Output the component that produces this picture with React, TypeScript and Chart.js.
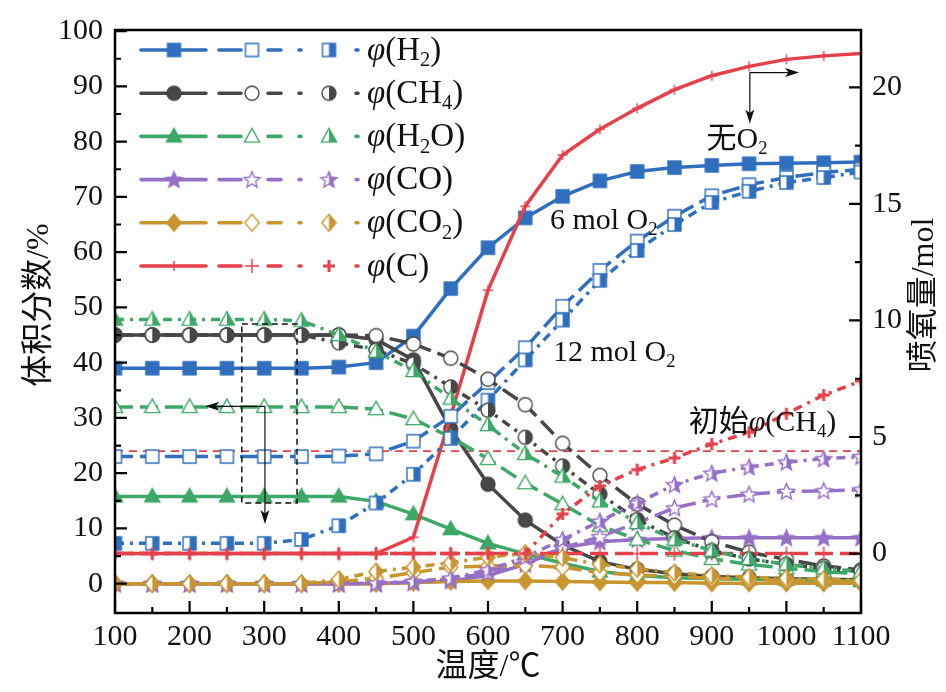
import React, { useEffect, useRef } from 'react';
import { Chart, registerables } from 'chart.js';
Chart.register(...registerables);

// ---------- data ----------
const TEMPS = [100, 150, 200, 250, 300, 350, 400, 450, 500, 550, 600, 650, 700, 750, 800, 850, 900, 950, 1000, 1050, 1100];

// solid lines, filled markers (无O2)
const H2_A = [39, 39, 39, 39, 39, 39, 39.2, 40, 44.8, 53.4, 60.8, 66.2, 70.1, 72.9, 74.6, 75.3, 75.7, 76, 76.1, 76.2, 76.3];
const CH4_A = [45, 45, 45, 45, 45, 45, 45, 44.2, 40.5, 28, 18, 11.5, 7, 4, 2.6, 1.8, 1.3, 1.1, 0.9, 0.8, 0.7];
const H2O_A = [15.8, 15.8, 15.8, 15.8, 15.8, 15.8, 15.8, 14.9, 12.6, 9.9, 7.3, 5.4, 3.7, 2.2, 1.5, 1.1, 0.9, 0.8, 0.7, 0.6, 0.5];
const CO_A = [0, 0, 0, 0, 0, 0, 0, 0, 0.2, 0.5, 1.5, 3.5, 6.5, 7.6, 8, 8.2, 8.3, 8.3, 8.3, 8.3, 8.3];
const CO2_A = [0, 0, 0, 0, 0, 0, 0, 0, 0.2, 0.4, 0.5, 0.5, 0.4, 0.3, 0.2, 0.2, 0.1, 0.1, 0.1, 0.1, 0.1];
const C_A = [0, 0, 0, 0, 0, 0, 0, 0, 0.7, 5.9, 11.3, 14.9, 17.1, 18.2, 19.1, 19.9, 20.5, 20.9, 21.2, 21.35, 21.45];

// dashed lines, open markers (6 mol O2)
const H2_B = [23, 23, 23, 23, 23, 23, 23.1, 23.5, 25.8, 30.3, 36.4, 42.7, 50.2, 56.7, 62, 66.5, 70.2, 72.2, 73.5, 74.4, 75];
const CH4_B = [45, 45, 45, 45, 45, 45, 45, 44.9, 43.4, 40.8, 37, 32.4, 25.4, 19.6, 14.4, 10.6, 7.6, 5.7, 4.4, 3.2, 2.5];
const H2O_B = [32, 32, 32, 32, 32, 32, 32, 31.6, 29.8, 26.5, 22.6, 18.2, 14.4, 10.5, 8, 6, 4.5, 3.5, 2.8, 2.2, 1.8];
const CO_B = [0, 0, 0, 0, 0, 0, 0, 0.1, 0.3, 0.8, 2, 4, 6.5, 8.5, 11, 13.7, 15.3, 16.2, 16.7, 16.8, 17];
const CO2_B = [0, 0, 0, 0, 0, 0, 0.3, 1, 2, 3, 3.2, 3.3, 3, 2, 1.6, 1.3, 1, 0.8, 0.6, 0.5, 0.4];
const C_B = [0, 0, 0, 0, 0, 0, 0, 0, 0, 0, 0, 0, 0, 0, 0, 0, 0, 0, 0, 0, 0];

// dash-dot lines, half-filled markers (12 mol O2)
const H2_C = [7.3, 7.3, 7.3, 7.3, 7.3, 8, 10.5, 14.6, 19.8, 26.3, 33.2, 40.5, 47.7, 54.9, 60.3, 65, 69, 71, 72.6, 73.5, 74.5];
const CH4_C = [45, 45, 45, 45, 45, 45, 43.6, 42.3, 39.8, 35.6, 31.4, 26.5, 21.3, 16.2, 11.6, 8.3, 6, 4.5, 3.5, 2.8, 2.2];
const H2O_C = [47.8, 47.8, 47.8, 47.8, 47.8, 47.6, 45, 42, 38.5, 33.5, 28.7, 23.5, 19.4, 14.9, 11, 8, 6, 4.5, 3.5, 2.8, 2.2];
const CO_C = [0, 0, 0, 0, 0, 0, 0, 0.1, 0.4, 1, 2.5, 4.8, 8, 11.3, 14.6, 17.9, 20, 21.1, 22, 22.6, 23];
const CO2_C = [0, 0, 0, 0, 0, 0, 0.8, 2.2, 3, 3.8, 4.8, 5.5, 4.7, 3.5, 2.7, 2, 1.5, 1.2, 1, 0.8, 0.6];
const C_C = [0, 0, 0, 0, 0, 0, 0, 0, 0, 0, 0, 0, 1.7, 2.9, 3.6, 4.1, 4.7, 5.2, 6, 6.8, 7.4];

const INITIAL_CH4 = 24;

const X_TICKS = [100, 200, 300, 400, 500, 600, 700, 800, 900, 1000, 1100];
const X_MINOR = [150, 250, 350, 450, 550, 650, 750, 850, 950, 1050];
const Y_TICKS = [0, 10, 20, 30, 40, 50, 60, 70, 80, 90, 100];
const Y_MINOR = [5, 15, 25, 35, 45, 55, 65, 75, 85, 95];
const Y2_TICKS = [0, 5, 10, 15, 20];
const Y2_MINOR = [2.5, 7.5, 12.5, 17.5];

const SERIF = '"Liberation Serif", "Times New Roman", "Noto Sans CJK SC", serif';

const BLUE = '#2f6fbd';
const GRAY = '#474747';
const GREEN = '#3da867';
const PURPLE = '#9670c6';
const GOLD = '#c8952f';
const RED = '#e6404a';

type Shape = 'square' | 'circle' | 'triangle' | 'star' | 'diamond' | 'cross';
type Fill = 'full' | 'open' | 'half';

const SIZES: Record<Shape, number> = { square: 6.5, circle: 7, triangle: 8, star: 8.5, diamond: 8.5, cross: 7 };

function shapePath(ctx: CanvasRenderingContext2D, shape: Shape, c: number, r: number) {
  ctx.beginPath();
  if (shape === 'square') ctx.rect(c - r, c - r, 2 * r, 2 * r);
  else if (shape === 'circle') ctx.arc(c, c, r, 0, Math.PI * 2);
  else if (shape === 'triangle') {
    ctx.moveTo(c, c - r * 1.0);
    ctx.lineTo(c + r * 0.95, c + r * 0.7);
    ctx.lineTo(c - r * 0.95, c + r * 0.7);
    ctx.closePath();
  } else if (shape === 'star') {
    for (let i = 0; i < 10; i++) {
      const a = -Math.PI / 2 + (i * Math.PI) / 5;
      const rr = i % 2 === 0 ? r : r * 0.45;
      const px = c + rr * Math.cos(a);
      const py = c + 0.6 + rr * Math.sin(a);
      if (i === 0) ctx.moveTo(px, py);
      else ctx.lineTo(px, py);
    }
    ctx.closePath();
  } else if (shape === 'diamond') {
    ctx.moveTo(c, c - r);
    ctx.lineTo(c + r * 0.85, c);
    ctx.lineTo(c, c + r);
    ctx.lineTo(c - r * 0.85, c);
    ctx.closePath();
  }
}

function makeMarker(shape: Shape, fill: Fill, color: string, rr?: number): HTMLCanvasElement {
  const r = rr ?? SIZES[shape];
  const size = Math.ceil(2 * r + 4);
  const cv = document.createElement('canvas');
  cv.width = size;
  cv.height = size;
  const ctx = cv.getContext('2d')!;
  const c = size / 2;
  ctx.strokeStyle = color;
  ctx.fillStyle = color;
  ctx.lineWidth = 1.4;
  if (shape === 'cross') {
    ctx.lineWidth = fill === 'half' ? 3 : 1.4;
    ctx.beginPath();
    ctx.moveTo(c - r, c);
    ctx.lineTo(c + r, c);
    ctx.moveTo(c, c - r);
    ctx.lineTo(c, c + r);
    ctx.stroke();
    return cv;
  }
  shapePath(ctx, shape, c, r);
  if (fill === 'full') {
    ctx.fill();
    ctx.stroke();
  } else {
    ctx.fillStyle = '#ffffff';
    ctx.fill();
    if (fill === 'half') {
      ctx.save();
      ctx.clip();
      ctx.fillStyle = color;
      ctx.fillRect(c, 0, size, size);
      ctx.restore();
      shapePath(ctx, shape, c, r);
    }
    ctx.stroke();
  }
  return cv;
}

type Part = { t: string; it?: boolean; sub?: boolean };

function drawRich(ctx: CanvasRenderingContext2D, parts: Part[], x: number, y: number, size: number) {
  let cx = x;
  ctx.textBaseline = 'middle';
  ctx.textAlign = 'left';
  for (const p of parts) {
    const fs = p.sub ? size * 0.62 : size;
    ctx.font = `${p.it ? 'italic ' : ''}${fs}px ${SERIF}`;
    ctx.fillText(p.t, cx, p.sub ? y + size * 0.3 : y);
    cx += ctx.measureText(p.t).width;
  }
}

function arrow(ctx: CanvasRenderingContext2D, x1: number, y1: number, x2: number, y2: number) {
  const ang = Math.atan2(y2 - y1, x2 - x1);
  const L = 14;
  const W = 4.5;
  ctx.beginPath();
  ctx.moveTo(x1, y1);
  ctx.lineTo(x2 - L * 0.6 * Math.cos(ang), y2 - L * 0.6 * Math.sin(ang));
  ctx.stroke();
  ctx.beginPath();
  ctx.moveTo(x2, y2);
  ctx.lineTo(x2 - L * Math.cos(ang) + W * Math.sin(ang), y2 - L * Math.sin(ang) - W * Math.cos(ang));
  ctx.lineTo(x2 - L * 0.75 * Math.cos(ang), y2 - L * 0.75 * Math.sin(ang));
  ctx.lineTo(x2 - L * Math.cos(ang) - W * Math.sin(ang), y2 - L * Math.sin(ang) + W * Math.cos(ang));
  ctx.closePath();
  ctx.fill();
}

const LEGEND_LABELS: Part[][] = [
  [{ t: 'φ', it: true }, { t: '(H' }, { t: '2', sub: true }, { t: ')' }],
  [{ t: 'φ', it: true }, { t: '(CH' }, { t: '4', sub: true }, { t: ')' }],
  [{ t: 'φ', it: true }, { t: '(H' }, { t: '2', sub: true }, { t: 'O)' }],
  [{ t: 'φ', it: true }, { t: '(CO)' }],
  [{ t: 'φ', it: true }, { t: '(CO' }, { t: '2', sub: true }, { t: ')' }],
  [{ t: 'φ', it: true }, { t: '(C)' }],
];

const DASHED = [18, 7];
const DASHDOT = [9, 6, 3, 6];

export default function App() {
  const ref = useRef<HTMLCanvasElement>(null);
  useEffect(() => {
    const canvas = ref.current!;
    const species = [
      { color: BLUE, shape: 'square' as Shape, A: H2_A, B: H2_B, C: H2_C, axis: 'y' },
      { color: GRAY, shape: 'circle' as Shape, A: CH4_A, B: CH4_B, C: CH4_C, axis: 'y' },
      { color: GREEN, shape: 'triangle' as Shape, A: H2O_A, B: H2O_B, C: H2O_C, axis: 'y' },
      { color: PURPLE, shape: 'star' as Shape, A: CO_A, B: CO_B, C: CO_C, axis: 'y' },
      { color: GOLD, shape: 'diamond' as Shape, A: CO2_A, B: CO2_B, C: CO2_C, axis: 'y' },
      { color: RED, shape: 'cross' as Shape, A: C_A, B: C_B, C: C_C, axis: 'y1' },
    ];
    const markers = species.map((s) => ({
      full: makeMarker(s.shape, 'full', s.color, s.shape === 'cross' ? 5 : undefined),
      open: makeMarker(s.shape, 'open', s.color),
      half: makeMarker(s.shape, 'half', s.color, s.shape === 'cross' ? 6 : undefined),
    }));
    const toPts = (arr: number[]) => TEMPS.map((x, i) => ({ x, y: arr[i] }));
    const datasets: any[] = [];
    const mk = (arr: number[], s: any, dash: number[], marker: HTMLCanvasElement) => ({
      data: toPts(arr),
      yAxisID: s.axis,
      borderColor: s.color,
      backgroundColor: s.color,
      borderWidth: 3.5,
      borderDash: dash,
      pointStyle: marker,
      pointRadius: 6,
      tension: 0,
      fill: false,
    });
    species.slice().reverse().forEach((s) => {
      const i = species.indexOf(s);
      datasets.push(mk(s.C, s, DASHDOT, markers[i].half));
    });
    species.slice().reverse().forEach((s) => {
      const i = species.indexOf(s);
      datasets.push(mk(s.B, s, DASHED, markers[i].open));
    });
    species.slice().reverse().forEach((s) => {
      const i = species.indexOf(s);
      datasets.push(mk(s.A, s, [], markers[i].full));
    });
    datasets.push({
      data: [
        { x: TEMPS[0], y: INITIAL_CH4 },
        { x: TEMPS[TEMPS.length - 1], y: INITIAL_CH4 },
      ],
      yAxisID: 'y',
      borderColor: RED,
      borderWidth: 1.6,
      borderDash: [8, 6],
      pointRadius: 0,
      fill: false,
    });

    const tickFont = { family: SERIF, size: 30 };
    const plain = (v: any) => String(v);

    const decor = {
      id: 'decor',
      afterDatasetsDraw(ch: any) {
        const ctx: CanvasRenderingContext2D = ch.ctx;
        const xs = ch.scales.x;
        const ys = ch.scales.y;
        const px = (v: number) => xs.getPixelForValue(v);
        const py = (v: number) => ys.getPixelForValue(v);
        ctx.save();
        ctx.strokeStyle = '#111';
        ctx.lineWidth = 1.5;
        ctx.setLineDash([6, 4]);
        ctx.strokeRect(px(270), py(47), px(344) - px(270), py(14.6) - py(47));
        ctx.setLineDash([]);
        ctx.fillStyle = '#111';
        ctx.lineWidth = 1.2;
        arrow(ctx, px(301), py(32.1), px(221), py(32.1));
        arrow(ctx, px(301), py(32.1), px(301), py(10.8));
        arrow(ctx, px(951), py(92.5), px(951), py(83.3));
        arrow(ctx, px(951), py(92.5), px(1017), py(92.5));
        ctx.restore();
      },
      afterDraw(ch: any) {
        const ctx: CanvasRenderingContext2D = ch.ctx;
        const a = ch.chartArea;
        const xs = ch.scales.x;
        const ys = ch.scales.y;
        const y2 = ch.scales.y1;
        ctx.save();
        ctx.strokeStyle = '#000';
        ctx.lineWidth = 2.5;
        ctx.strokeRect(a.left, a.top, a.right - a.left, a.bottom - a.top);
        ctx.lineWidth = 2.2;
        ctx.beginPath();
        X_TICKS.forEach((v) => { const p = xs.getPixelForValue(v); ctx.moveTo(p, a.bottom); ctx.lineTo(p, a.bottom - 12); });
        X_MINOR.forEach((v) => { const p = xs.getPixelForValue(v); ctx.moveTo(p, a.bottom); ctx.lineTo(p, a.bottom - 6); });
        Y_TICKS.forEach((v) => { const p = ys.getPixelForValue(v); ctx.moveTo(a.left, p); ctx.lineTo(a.left + 12, p); });
        Y_MINOR.forEach((v) => { const p = ys.getPixelForValue(v); ctx.moveTo(a.left, p); ctx.lineTo(a.left + 6, p); });
        Y2_TICKS.forEach((v) => { const p = y2.getPixelForValue(v); ctx.moveTo(a.right, p); ctx.lineTo(a.right - 12, p); });
        Y2_MINOR.forEach((v) => { const p = y2.getPixelForValue(v); ctx.moveTo(a.right, p); ctx.lineTo(a.right - 6, p); });
        ctx.stroke();

        // legend
        for (let i = 0; i < 6; i++) {
          const s = species[i];
          const y = 50 + i * 43.2;
          ctx.strokeStyle = s.color;
          ctx.lineWidth = 3.6;
          ctx.lineCap = 'round';
          ctx.beginPath();
          ctx.moveTo(141, y); ctx.lineTo(206, y);
          ctx.moveTo(219, y); ctx.lineTo(241, y);
          ctx.moveTo(268, y); ctx.lineTo(281, y);
          ctx.moveTo(299, y); ctx.lineTo(301, y);
          ctx.moveTo(356, y); ctx.lineTo(358, y);
          ctx.stroke();
          const m = markers[i];
          ctx.drawImage(m.full, 174 - m.full.width / 2, y - m.full.height / 2);
          ctx.drawImage(m.open, 252 - m.open.width / 2, y - m.open.height / 2);
          ctx.drawImage(m.half, 329 - m.half.width / 2, y - m.half.height / 2);
          ctx.fillStyle = '#111';
          drawRich(ctx, LEGEND_LABELS[i], 367, y + 1, 33);
        }
        ctx.lineCap = 'butt';

        // annotations
        ctx.fillStyle = '#111';
        const px = (v: number) => xs.getPixelForValue(v);
        const py = (v: number) => ys.getPixelForValue(v);
        drawRich(ctx, [{ t: '6 mol O' }, { t: '2', sub: true }], px(683), py(65.6), 30);
        drawRich(ctx, [{ t: '12 mol O' }, { t: '2', sub: true }], px(687), py(41.8), 30);
        drawRich(ctx, [{ t: '无O' }, { t: '2', sub: true }], px(893), py(80.3), 30);
        drawRich(ctx, [{ t: '初始' }, { t: 'φ', it: true }, { t: '(CH' }, { t: '4', sub: true }, { t: ')' }], px(869), py(29.1), 30);

        // axis titles
        ctx.font = `32px ${SERIF}`;
        ctx.textAlign = 'center';
        ctx.textBaseline = 'middle';
        ctx.fillText('温度/℃', (a.left + a.right) / 2, 668);
        ctx.save();
        ctx.translate(40, 305);
        ctx.rotate(-Math.PI / 2);
        ctx.fillText('体积分数/%', 0, 0);
        ctx.restore();
        ctx.save();
        ctx.translate(925, 295);
        ctx.rotate(-Math.PI / 2);
        ctx.fillText('喷氧量/mol', 0, 0);
        ctx.restore();
        ctx.restore();
      },
    };

    const chart = new Chart(canvas, {
      type: 'line',
      data: { datasets },
      options: {
        responsive: false,
        animation: false,
        events: [],
        layout: { padding: { top: 24, left: 0, right: 0, bottom: 0 } },
        plugins: { legend: { display: false }, tooltip: { enabled: false } },
        scales: {
          x: {
            type: 'linear',
            min: 100,
            max: 1100,
            afterBuildTicks: (s: any) => { s.ticks = X_TICKS.map((v) => ({ value: v })); },
            afterFit: (s: any) => { s.height = 79; },
            grid: { display: false, drawTicks: false },
            border: { display: false },
            ticks: { font: tickFont, color: '#111', padding: 6, maxRotation: 0, autoSkip: false, callback: plain },
          },
          y: {
            type: 'linear',
            position: 'left',
            min: -5.3,
            max: 100.2,
            afterBuildTicks: (s: any) => { s.ticks = Y_TICKS.map((v) => ({ value: v })); },
            afterFit: (s: any) => { s.width = 115; },
            grid: { display: false, drawTicks: false },
            border: { display: false },
            ticks: { font: tickFont, color: '#111', padding: 12, autoSkip: false, callback: plain },
          },
          y1: {
            type: 'linear',
            position: 'right',
            min: -2.55,
            max: 22.46,
            afterBuildTicks: (s: any) => { s.ticks = Y2_TICKS.map((v) => ({ value: v })); },
            afterFit: (s: any) => { s.width = 85; },
            grid: { display: false, drawTicks: false },
            border: { display: false },
            ticks: { font: tickFont, color: '#111', padding: 11, autoSkip: false, callback: plain },
          },
        },
      },
      plugins: [decor],
    } as any);
    return () => chart.destroy();
  }, []);
  return (
    <div style={{ position: 'absolute', left: 0, top: 0, width: 946, height: 692, background: '#fff' }}>
      <canvas ref={ref} width={946} height={692} style={{ width: 946, height: 692, display: 'block' }} />
    </div>
  );
}
